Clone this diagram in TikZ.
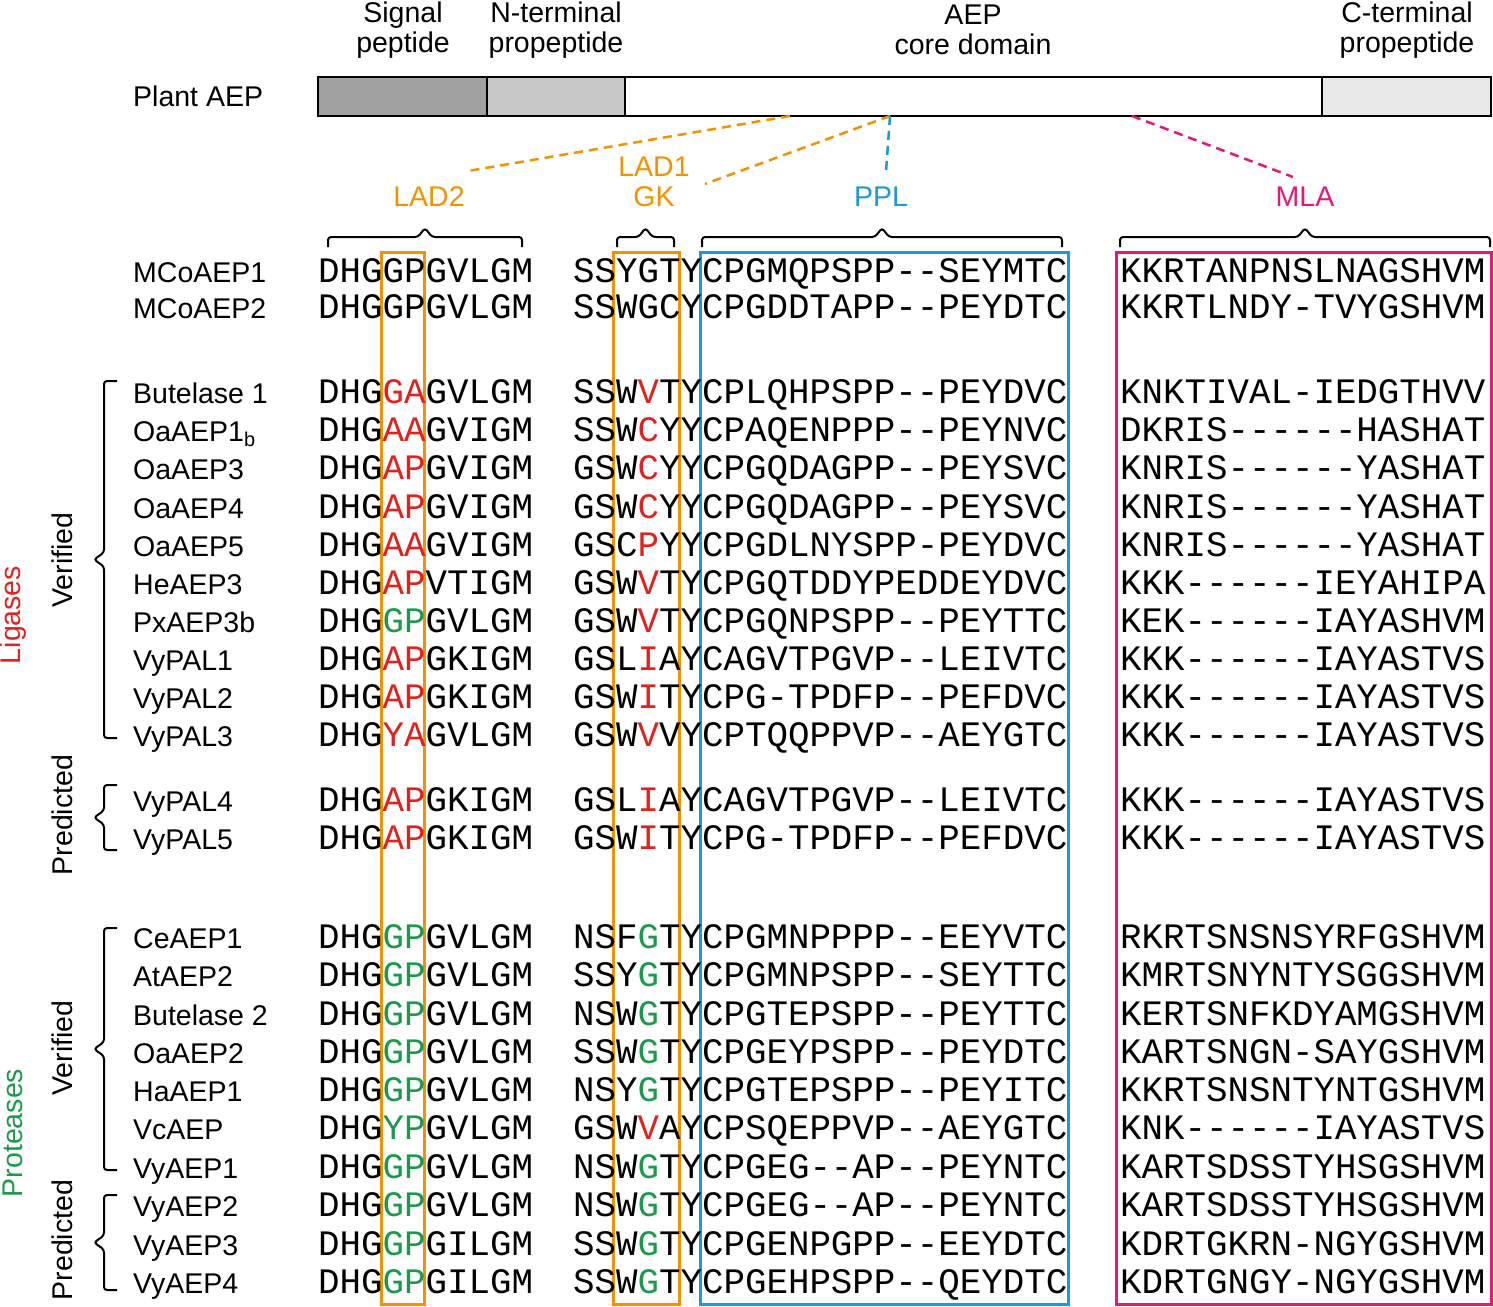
\documentclass[tikz,border=0pt]{standalone}
\usepackage{fontspec}
\setmainfont{Liberation Sans}
\setmonofont{Liberation Mono}
\definecolor{cor}{HTML}{F39200}
\definecolor{cbl}{HTML}{1A9AD6}
\definecolor{cpk}{HTML}{E5177B}
\definecolor{crd}{HTML}{E2211C}
\definecolor{cgr}{HTML}{1A9A4A}
\newcommand{\R}[1]{\textcolor{crd}{#1}}
\newcommand{\G}[1]{\textcolor{cgr}{#1}}
\tikzset{
 nm/.style={anchor=base west,inner sep=0pt,font=\fontsize{28.5}{30}\selectfont},
 sq/.style={anchor=base west,inner sep=0pt,font=\ttfamily\fontsize{35.8}{36}\selectfont},
 lab/.style={inner sep=0pt,font=\fontsize{28.5}{30}\selectfont,align=center},
 brc/.style={line width=2pt,rounded corners=3pt},
 dl/.style={dashed,dash pattern=on 9pt off 6pt,line width=2.5pt},
 bx/.style={line width=3pt}
}
\newcommand{\row}[5]{%
 \node[nm] (n#1) at (133,-#1-10) {#2};
 \node[sq] (a#1) at (318,-#1-10) {#3};
 \node[sq] (b#1) at (573,-#1-10) {#4};
 \node[sq] (c#1) at (1120,-#1-10) {#5};}
% horizontal bracket: x1, x2
\newcommand{\hbr}[2]{\draw[brc] (#1,-247)--(#1,-237)--({(#1+#2)/2-7},-237)--({(#1+#2)/2},-228)--({(#1+#2)/2+7},-237)--(#2,-237)--(#2,-247);}
% vertical bracket: ytop, ybottom (positive)
\newcommand{\vbr}[2]{\draw[brc] (117,-#1)--(104,-#1)--(104,{-(#1+#2)/2+7})--(94,{-(#1+#2)/2})--(104,{-(#1+#2)/2-7})--(104,-#2)--(117,-#2);}
\begin{document}
\begin{tikzpicture}[x=1pt,y=1pt]
\useasboundingbox (0,0) rectangle (1493,-1306);
% top bar
\fill[black!37] (318,-77) rectangle (487,-116);
\fill[black!22] (487,-77) rectangle (625,-116);
\fill[black!9] (1322,-77) rectangle (1491,-116);
\draw[line width=2.5pt] (318,-77) rectangle (1491,-116);
\draw[line width=2.5pt] (487,-77)--(487,-116) (625,-77)--(625,-116) (1322,-77)--(1322,-116);
\node[lab] (t1) at (403,-30) {Signal\\peptide};
\node[lab] (t2) at (556,-30) {N-terminal\\propeptide};
\node[lab] (t3) at (973,-30) {AEP\\core domain};
\node[lab] (t4) at (1407,-30) {C-terminal\\propeptide};
\node[lab,anchor=west] (pa) at (133,-96) {Plant AEP};
% domain labels
\node[lab,text=cor] (l2) at (429,-197) {LAD2};
\node[lab,text=cor] (l1) at (654,-182) {LAD1\\GK};
\node[lab,text=cbl] (pp) at (881,-197) {PPL};
\node[lab,text=cpk] (ml) at (1305,-197) {MLA};
\coordinate (d1) at (790,-116); \coordinate (d2) at (890,-116); \coordinate (d3) at (1132,-116);
\coordinate (e1) at (468,-171); \coordinate (e2) at (705,-184); \coordinate (e3) at (886,-172); \coordinate (e4) at (1293,-177);
\draw[dl,cor] (d1)--(e1); \draw[dl,cor] (d2)--(e2); \draw[dl,cbl] (d2)--(e3); \draw[dl,cpk] (d3)--(e4);
% brackets
\hbr{328}{522}
\hbr{617}{674}
\hbr{702}{1062}
\hbr{1120}{1490}
% boxes
\draw[bx,cor] (381,-252) rectangle (424,-1304);
\draw[bx,cor] (613,-252) rectangle (679,-1304);
\draw[bx,cbl] (700,-252) rectangle (1068,-1304);
\draw[bx,cpk] (1116,-252) rectangle (1491,-1304);
% rows
\row{272}{MCoAEP1}{DHGGPGVLGM}{SSYGTYCPGMQPSPP--SEYMTC}{KKRTANPNSLNAGSHVM}
\row{308}{MCoAEP2}{DHGGPGVLGM}{SSWGCYCPGDDTAPP--PEYDTC}{KKRTLNDY-TVYGSHVM}
\row{393}{Butelase 1}{DHG\R{GA}GVLGM}{SSW\R{V}TYCPLQHPSPP--PEYDVC}{KNKTIVAL-IEDGTHVV}
\row{431}{OaAEP1\textsubscript{b}}{DHG\R{AA}GVIGM}{SSW\R{C}YYCPAQENPPP--PEYNVC}{DKRIS------HASHAT}
\row{469}{OaAEP3}{DHG\R{AP}GVIGM}{GSW\R{C}YYCPGQDAGPP--PEYSVC}{KNRIS------YASHAT}
\row{508}{OaAEP4}{DHG\R{AP}GVIGM}{GSW\R{C}YYCPGQDAGPP--PEYSVC}{KNRIS------YASHAT}
\row{546}{OaAEP5}{DHG\R{AA}GVIGM}{GSC\R{P}YYCPGDLNYSPP-PEYDVC}{KNRIS------YASHAT}
\row{584}{HeAEP3}{DHG\R{AP}VTIGM}{GSW\R{V}TYCPGQTDDYPEDDEYDVC}{KKK------IEYAHIPA}
\row{622}{PxAEP3b}{DHG\G{GP}GVLGM}{GSW\R{V}TYCPGQNPSPP--PEYTTC}{KEK------IAYASHVM}
\row{660}{VyPAL1}{DHG\R{AP}GKIGM}{GSL\R{I}AYCAGVTPGVP--LEIVTC}{KKK------IAYASTVS}
\row{698}{VyPAL2}{DHG\R{AP}GKIGM}{GSW\R{I}TYCPG-TPDFP--PEFDVC}{KKK------IAYASTVS}
\row{736}{VyPAL3}{DHG\R{YA}GVLGM}{GSW\R{V}VYCPTQQPPVP--AEYGTC}{KKK------IAYASTVS}
\row{801}{VyPAL4}{DHG\R{AP}GKIGM}{GSL\R{I}AYCAGVTPGVP--LEIVTC}{KKK------IAYASTVS}
\row{839}{VyPAL5}{DHG\R{AP}GKIGM}{GSW\R{I}TYCPG-TPDFP--PEFDVC}{KKK------IAYASTVS}
\row{938}{CeAEP1}{DHG\G{GP}GVLGM}{NSF\G{G}TYCPGMNPPPP--EEYVTC}{RKRTSNSNSYRFGSHVM}
\row{976}{AtAEP2}{DHG\G{GP}GVLGM}{SSY\G{G}TYCPGMNPSPP--SEYTTC}{KMRTSNYNTYSGGSHVM}
\row{1015}{Butelase 2}{DHG\G{GP}GVLGM}{NSW\G{G}TYCPGTEPSPP--PEYTTC}{KERTSNFKDYAMGSHVM}
\row{1053}{OaAEP2}{DHG\G{GP}GVLGM}{SSW\G{G}TYCPGEYPSPP--PEYDTC}{KARTSNGN-SAYGSHVM}
\row{1091}{HaAEP1}{DHG\G{GP}GVLGM}{NSY\G{G}TYCPGTEPSPP--PEYITC}{KKRTSNSNTYNTGSHVM}
\row{1129}{VcAEP}{DHG\G{YP}GVLGM}{GSW\R{V}AYCPSQEPPVP--AEYGTC}{KNK------IAYASTVS}
\row{1168}{VyAEP1}{DHG\G{GP}GVLGM}{NSW\G{G}TYCPGEG--AP--PEYNTC}{KARTSDSSTYHSGSHVM}
\row{1206}{VyAEP2}{DHG\G{GP}GVLGM}{NSW\G{G}TYCPGEG--AP--PEYNTC}{KARTSDSSTYHSGSHVM}
\row{1245}{VyAEP3}{DHG\G{GP}GILGM}{SSW\G{G}TYCPGENPGPP--EEYDTC}{KDRTGKRN-NGYGSHVM}
\row{1283}{VyAEP4}{DHG\G{GP}GILGM}{SSW\G{G}TYCPGEHPSPP--QEYDTC}{KDRTGNGY-NGYGSHVM}
% left brackets
\vbr{381}{738}
\vbr{785}{850}
\vbr{928}{1170}
\vbr{1195}{1290}
\node[lab,rotate=90] (v1) at (62,-560) {Verified};
\node[lab,rotate=90] (p1) at (62,-815) {Predicted};
\node[lab,rotate=90,text=crd] (lg) at (13,-615) {Ligases};
\node[lab,rotate=90] (v2) at (62,-1048) {Verified};
\node[lab,rotate=90,text=cgr] (pr) at (13,-1133) {Proteases};
\node[lab,rotate=90] (p2) at (62,-1240) {Predicted};
\end{tikzpicture}
\end{document}
